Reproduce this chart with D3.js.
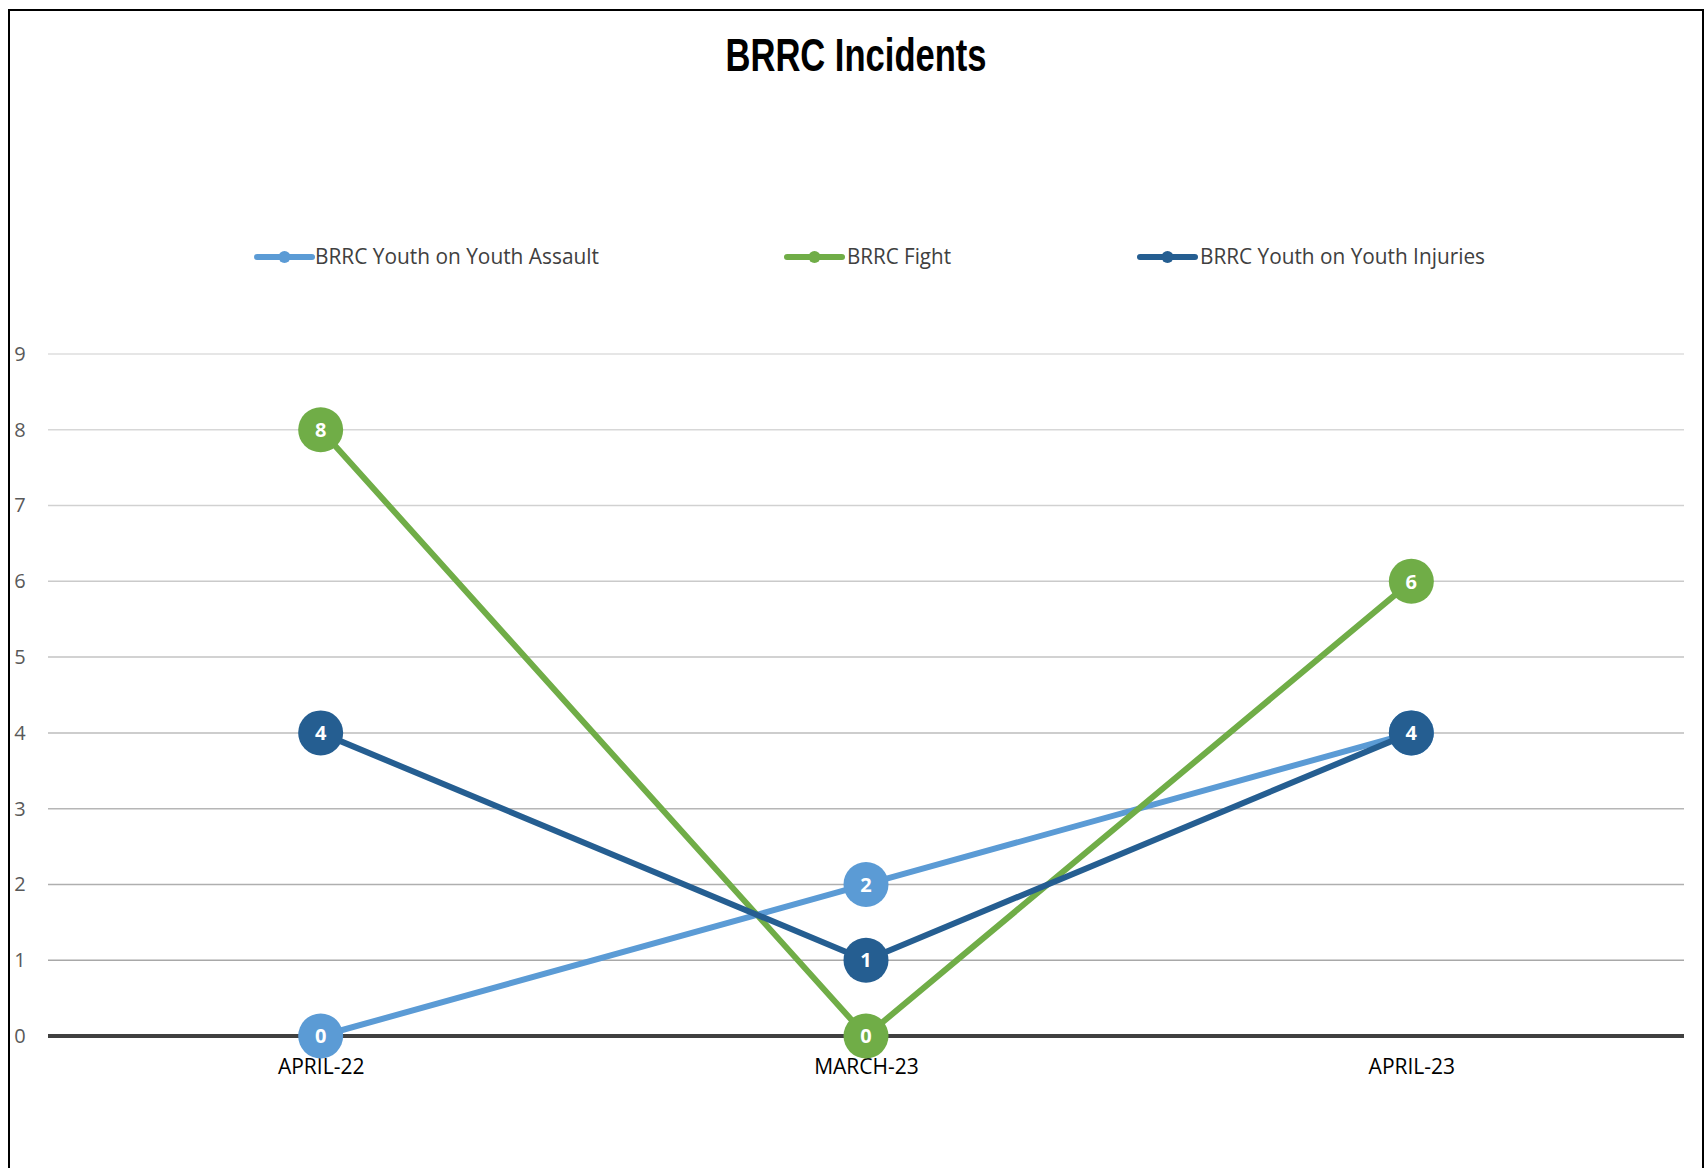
<!DOCTYPE html>
<html>
<head>
<meta charset="utf-8">
<script src="https://cdn.jsdelivr.net/npm/d3@7"></script>
<style>
  html, body { margin: 0; padding: 0; background: #fff; }
  svg { display: block; }
</style>
</head>
<body>
<svg id="chart" width="1706" height="1168"></svg>
<script>
// Incident counts by reporting month
const months = ["APRIL-22", "MARCH-23", "APRIL-23"];
const seriesNames = ["BRRC Youth on Youth Assault", "BRRC Fight", "BRRC Youth on Youth Injuries"];
const assault = [0, 2, 4];
const fight = [8, 0, 6];
const injuries = [4, 1, 4];
const yTicks = [0, 1, 2, 3, 4, 5, 6, 7, 8, 9];
const seriesColors = ["#5b9bd5", "#70ad47", "#255e91"];

const series = [
  { name: seriesNames[0], values: assault, color: seriesColors[0] },
  { name: seriesNames[1], values: fight, color: seriesColors[1] },
  { name: seriesNames[2], values: injuries, color: seriesColors[2] }
];

const svg = d3.select("#chart");

// outer frame
svg.append("rect")
  .attr("x", 9).attr("y", 10)
  .attr("width", 1694).attr("height", 1200)
  .attr("fill", "#fff")
  .attr("stroke", "#000").attr("stroke-width", 2);

// title
svg.append("text")
  .attr("x", 856).attr("y", 71)
  .attr("text-anchor", "middle")
  .attr("font-family", "'Liberation Sans Narrow', 'Liberation Sans', Arial, sans-serif")
  .attr("font-weight", "bold")
  .attr("font-size", 47)
  .attr("textLength", 261)
  .attr("lengthAdjust", "spacingAndGlyphs")
  .attr("fill", "#000")
  .text("BRRC Incidents");

// scales
const x = d3.scalePoint().domain(months).range([48, 1684]).padding(0.5);
const y = d3.scaleLinear().domain([0, 9]).range([1036, 354]);

// horizontal gridlines
const gridShade = d3.scaleLinear().domain([9, 1]).range(["#dedede", "#a8a8a8"]);
svg.append("g").selectAll("line")
  .data(yTicks.filter(d => d > 0))
  .join("line")
  .attr("x1", 48).attr("x2", 1684)
  .attr("y1", d => y(d)).attr("y2", d => y(d))
  .attr("stroke", d => gridShade(d))
  .attr("stroke-width", 1.5);

// y-axis tick labels
const yAxis = d3.axisLeft(y).tickValues(yTicks).tickSize(0).tickPadding(0);
const gy = svg.append("g").attr("transform", "translate(26,0)").call(yAxis);
gy.select(".domain").remove();
gy.selectAll("text")
  .attr("font-family", "'Open Sans', 'Noto Sans', sans-serif")
  .attr("font-size", 20)
  .attr("fill", "#595959")
  .attr("text-anchor", "middle")
  .attr("x", -6);

// zero baseline
svg.append("line")
  .attr("x1", 48).attr("x2", 1684)
  .attr("y1", y(0)).attr("y2", y(0))
  .attr("stroke", "#404040").attr("stroke-width", 4);

// x-axis category labels
const xAxis = d3.axisBottom(x).tickSize(0).tickPadding(0);
const gx = svg.append("g").attr("transform", `translate(0,${y(0)})`).call(xAxis);
gx.select(".domain").remove();
gx.selectAll("text")
  .attr("font-family", "'Open Sans', 'Noto Sans', sans-serif")
  .attr("font-size", 21)
  .attr("fill", "#000")
  .attr("dy", 0)
  .attr("y", 38);

// series lines and value markers
const line = d3.line().x((d, i) => x(months[i])).y(d => y(d));
const plot = svg.append("g");
series.forEach(s => {
  const g = plot.append("g");
  g.append("path")
    .datum(s.values)
    .attr("d", line)
    .attr("fill", "none")
    .attr("stroke", s.color)
    .attr("stroke-width", 6)
    .attr("stroke-linejoin", "round");
  const pts = g.selectAll("g.pt")
    .data(s.values.map((v, i) => ({ v, m: months[i] })))
    .join("g").attr("class", "pt")
    .attr("transform", d => `translate(${x(d.m)},${y(d.v)})`);
  pts.append("circle").attr("r", 22.5).attr("fill", s.color);
  pts.append("text")
    .attr("text-anchor", "middle")
    .attr("dy", "0.36em")
    .attr("font-family", "'Open Sans', 'Noto Sans', sans-serif")
    .attr("font-weight", "bold")
    .attr("font-size", 20)
    .attr("fill", "#fff")
    .text(d => d.v);
});

// legend
const legendItems = [
  { x0: 257, tx: 315, tl: 284 },
  { x0: 787, tx: 847, tl: 104 },
  { x0: 1140, tx: 1200, tl: 285 }
];
const legend = svg.append("g");
series.forEach((s, i) => {
  const it = legendItems[i];
  const g = legend.append("g");
  g.append("line")
    .attr("x1", it.x0).attr("x2", it.x0 + 55)
    .attr("y1", 257).attr("y2", 257)
    .attr("stroke", s.color).attr("stroke-width", 6)
    .attr("stroke-linecap", "round");
  g.append("circle")
    .attr("cx", it.x0 + 27.5).attr("cy", 257).attr("r", 6)
    .attr("fill", s.color);
  g.append("text")
    .attr("x", it.tx).attr("y", 264)
    .attr("font-family", "'Open Sans', 'Noto Sans', sans-serif")
    .attr("font-size", 21)
    .attr("textLength", it.tl)
    .attr("lengthAdjust", "spacingAndGlyphs")
    .attr("fill", "#404040")
    .text(s.name);
});
</script>
</body>
</html>
